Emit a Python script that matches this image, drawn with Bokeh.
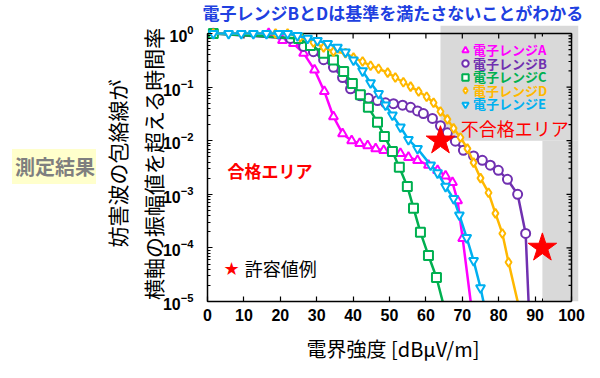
import math
from bokeh.plotting import figure
from bokeh.layouts import row, column
from bokeh.models import (FixedTicker, Legend, LegendItem, Label, BoxAnnotation, Range1d)
from bokeh.embed import file_html
from bokeh.resources import INLINE

# ---------------- data ----------------
a_x = [1.6, 16.8, 20.6, 23.6, 26.4, 29.4, 32.1, 34.6, 37.1, 39.6, 41.8, 44.0, 46.2, 48.4, 50.8,
       53.0, 55.2, 57.7, 60.7, 63.2, 65.4, 67.3, 68.7, 70.1, 72.3]
a_y = [1, 1, 0.74, 0.65, 0.43, 0.21, 0.083, 0.028, 0.0135, 0.010, 0.0089, 0.0081, 0.0071, 0.0066,
       0.0060, 0.0058, 0.0049, 0.0043, 0.0035, 0.0028, 0.0022, 0.00166, 0.00076, 0.00015, 1e-5]

b_x = [1.6, 22.8, 26.4, 29.1, 31.9, 34.6, 37.1, 39.3, 42.0, 44.2, 46.7, 48.9, 51.1, 53.6, 55.8,
       57.7, 59.3, 61.8, 64.0, 65.9, 68.1, 70.3, 73.1, 75.5, 77.7, 79.9, 82.4, 85.2, 87.4, 88.2]
b_y = [1, 0.81, 0.575, 0.457, 0.324, 0.234, 0.151, 0.093, 0.069, 0.062, 0.056, 0.051, 0.049, 0.046,
       0.042, 0.036, 0.032, 0.026, 0.019, 0.014, 0.0098, 0.0066, 0.0052, 0.0043, 0.0035, 0.0028,
       0.0019, 0.0010, 0.000186, 1e-5]

c_x = [1.6, 25.0, 28.3, 31.9, 34.6, 37.4, 39.8, 42.0, 44.2, 46.7, 48.6, 50.8, 52.7, 54.9, 56.6,
       58.5, 60.7, 62.9, 64.6]
c_y = [1, 0.81, 0.60, 0.43, 0.32, 0.195, 0.117, 0.072, 0.042, 0.022, 0.012, 0.0063, 0.0032, 0.0014,
       0.00055, 0.000195, 7.2e-5, 2.8e-5, 1e-5]

d_x = [1.6, 18.7, 22.0, 25.5, 29.1, 31.9, 34.6, 37.9, 40.1, 42.6, 44.8, 47.0, 49.5, 51.6, 53.8,
       55.8, 58.0, 60.2, 62.1, 64.0, 65.9, 67.6, 69.5, 71.4, 73.1, 75.0, 77.2, 79.1, 81.0, 82.7, 85.2]
d_y = [1, 1, 1, 0.85, 0.68, 0.55, 0.46, 0.43, 0.355, 0.30, 0.25, 0.22, 0.186, 0.151, 0.123, 0.102,
       0.083, 0.066, 0.051, 0.035, 0.025, 0.017, 0.0115, 0.0071, 0.0039, 0.0020, 0.00107, 0.00044,
       0.000186, 5.4e-5, 1e-5]

e_x = [1.6, 5.8, 9.3, 12.6, 16.2, 19.5, 22.0, 24.7, 27.5, 30.2, 33.0, 35.7, 37.9, 40.1, 42.6, 44.8,
       47.0, 48.9, 50.8, 53.0, 55.2, 57.7, 61.3, 63.2, 65.4, 67.6, 69.2, 71.2, 73.1, 75.0, 75.8]
e_y = [1, 1, 1, 1, 1, 1, 1, 0.91, 0.81, 0.74, 0.65, 0.55, 0.45, 0.32, 0.20, 0.12, 0.076, 0.046,
       0.030, 0.018, 0.0105, 0.0071, 0.0035, 0.0025, 0.0014, 0.00083, 0.00041, 0.000155, 5.8e-5,
       1.8e-5, 1e-5]

series_names = ["電子レンジA", "電子レンジB", "電子レンジC", "電子レンジD", "電子レンジE"]
limit_x = [64, 92]
limit_y = [1e-2, 1e-4]
x_ticks = [0, 10, 20, 30, 40, 50, 60, 70, 80, 90, 100]
x_minor = [92]
y_decades = [-5, -4, -3, -2, -1, 0]

# ---------------- geometry ----------------
JP = "Noto Sans CJK JP"
NUM = "Liberation Sans"
PAGE_W, PAGE_H = 600, 378
SIDE_W = 96
TOP_H = 25
FRAME_L, FRAME_R, FRAME_T, FRAME_B = 207, 578, 25, 301   # page pixels of the drawing area
X_LO, X_HI = 0.0, 101.92                                  # drawing area (a bit wider than axis box)
Y_LO, Y_HI = 1e-5, 1.41
AX_X = (x_ticks[0], x_ticks[-1])
AX_Y = (10.0 ** y_decades[0], 10.0 ** y_decades[-1])
x_per_px = (X_HI - X_LO) / (FRAME_R - FRAME_L)
dec_per_px = (math.log10(Y_HI) - math.log10(Y_LO)) / (FRAME_B - FRAME_T)


def blank_fig(w, h, y_top, y_bottom):
    # pixel-like coordinates, y measured downward
    f = figure(width=w, height=h, x_range=Range1d(0, w), y_range=Range1d(y_bottom, y_top),
               output_backend="svg", toolbar_location=None, min_border=0,
               x_axis_location=None, y_axis_location=None, outline_line_color=None)
    f.grid.visible = False
    return f


# ---------------- title strip ----------------
top = blank_fig(PAGE_W, TOP_H, 0, TOP_H)
top.add_layout(Label(x=202, y=12, text="電子レンジBとDは基準を満たさないことがわかる",
                     text_color="#2040E0", text_font=JP, text_font_style="bold",
                     text_font_size="17px", text_baseline="middle"))

# ---------------- side strip with the note (its frame lines up with the chart's) -------
side = blank_fig(SIDE_W, PAGE_H - TOP_H, FRAME_T, FRAME_B)
side.add_layout(Label(x=54.5, y=166, text="測定結果", text_color="#7F7F7F",
                      text_font=JP, text_font_style="bold", text_font_size="20px",
                      text_align="center", text_baseline="middle",
                      background_fill_color="#FFFFCC", padding=3))

# ---------------- main figure ----------------
p = figure(width=PAGE_W - SIDE_W, height=PAGE_H - TOP_H, y_axis_type="log",
           x_range=Range1d(X_LO, X_HI), y_range=Range1d(Y_LO, Y_HI),
           output_backend="svg", toolbar_location=None,
           min_border_left=FRAME_L - SIDE_W, min_border_right=PAGE_W - FRAME_R,
           min_border_top=FRAME_T - TOP_H, min_border_bottom=PAGE_H - FRAME_B)
p.grid.visible = False
p.outline_line_color = None

# non-compliant (gray) area
p.add_layout(BoxAnnotation(left=limit_x[0], bottom=limit_y[0],
                           fill_color="#D9D9D9", fill_alpha=1, line_alpha=0, level="underlay"))
p.add_layout(BoxAnnotation(left=limit_x[1], top=limit_y[0],
                           fill_color="#D9D9D9", fill_alpha=1, line_alpha=0, level="underlay"))

# axes
p.xaxis.ticker = FixedTicker(ticks=x_ticks, minor_ticks=x_minor)
p.xaxis.bounds = AX_X
p.yaxis.bounds = AX_Y
for ax in [p.xaxis[0], p.yaxis[0]]:
    ax.major_tick_in = 5
    ax.major_tick_out = 0
    ax.minor_tick_in = 3
    ax.minor_tick_out = 0
    ax.axis_line_width = 1.5
    ax.major_tick_line_width = 1.2
    ax.major_label_text_font = NUM
    ax.major_label_text_font_style = "bold"
    ax.major_label_text_font_size = "16px"
    ax.major_label_text_color = "black"
    ax.axis_label_text_font = JP
    ax.axis_label_text_font_style = "normal"
    ax.axis_label_text_color = "black"

p.xaxis.major_label_standoff = 7
p.xaxis.axis_label = "電界強度 [dBμV/m]"
p.xaxis.axis_label_text_font_size = "20px"
p.xaxis.axis_label_standoff = 10

p.yaxis.major_label_standoff = 14
p.yaxis.axis_label = "妨害波の包絡線が\n横軸の振幅値を超える時間率"
p.yaxis.axis_label_text_font_size = "21px"
p.yaxis.axis_label_standoff = -8

# top and right edges of the axis box, with inward ticks
p.line([AX_X[0], AX_X[1]], [AX_Y[1], AX_Y[1]], line_color="black", line_width=1.5)
p.line([AX_X[1], AX_X[1]], [AX_Y[0], AX_Y[1]], line_color="black", line_width=1.5)
top_t = x_ticks + x_minor
top_len = [5] * len(x_ticks) + [3] * len(x_minor)
p.segment(x0=top_t, y0=[AX_Y[1]] * len(top_t), x1=top_t,
          y1=[AX_Y[1] * 10 ** (-L * dec_per_px) for L in top_len],
          line_color="black", line_width=1.2)
right_y, right_len = [], []
for n in y_decades:
    right_y.append(10.0 ** n); right_len.append(5)
    if n < y_decades[-1]:
        for k in range(2, 10):
            right_y.append(k * 10.0 ** n); right_len.append(3)
p.segment(x0=[AX_X[1]] * len(right_y), y0=right_y,
          x1=[AX_X[1] - L * x_per_px for L in right_len], y1=right_y,
          line_color="black", line_width=1.2)

# series
colors = ["#FF00FF", "#7030B0", "#00B050", "#FFB800", "#00B0F0"]
markers = ["triangle", "circle", "square", "diamond", "inverted_triangle"]
xs = [a_x, b_x, c_x, d_x, e_x]
ys = [a_y, b_y, c_y, d_y, e_y]
legend_bottoms = [242, 228.5, 215, 201.5, 188]

for name, col, mk, sx, sy, lb in zip(series_names, colors, markers, xs, ys, legend_bottoms):
    p.line(sx, sy, line_color=col, line_width=2.5)
    r = p.scatter(sx[:-1], sy[:-1], marker=mk, size=9, fill_color="white",
                  line_color=col, line_width=2)
    leg = Legend(items=[LegendItem(label=name, renderers=[r])], location=(250, lb),
                 label_text_color=col, label_text_font=JP, label_text_font_style="bold",
                 label_text_font_size="13px", background_fill_alpha=0, border_line_alpha=0,
                 padding=0, margin=0, spacing=0, glyph_width=16, glyph_height=16,
                 label_height=16, label_standoff=0)
    p.add_layout(leg)

# permissible-value stars
p.scatter(limit_x, limit_y, marker="star", size=30, fill_color="#FF0000", line_color="#FF0000")

# texts
p.add_layout(Label(x=69.6, y=10 ** -1.77, text="不合格エリア", text_color="#FF0000",
                   text_font=JP, text_font_size="18px", text_baseline="middle"))
p.add_layout(Label(x=5.5, y=10 ** -2.56, text="合格エリア", text_color="#FF0000",
                   text_font=JP, text_font_style="bold", text_font_size="17px",
                   text_baseline="middle"))
p.add_layout(Label(x=6.6, y=10 ** -4.38, text="★", text_color="#FF0000", text_align="center",
                   text_font="DejaVu Sans", text_font_size="18px", text_baseline="middle"))
p.add_layout(Label(x=10.2, y=10 ** -4.38, text="許容値例", text_color="black",
                   text_font=JP, text_font_size="18px", text_baseline="middle"))

layout = column(top, row(side, p, spacing=0), spacing=0)
open("out.html", "w").write(file_html(layout, INLINE))
